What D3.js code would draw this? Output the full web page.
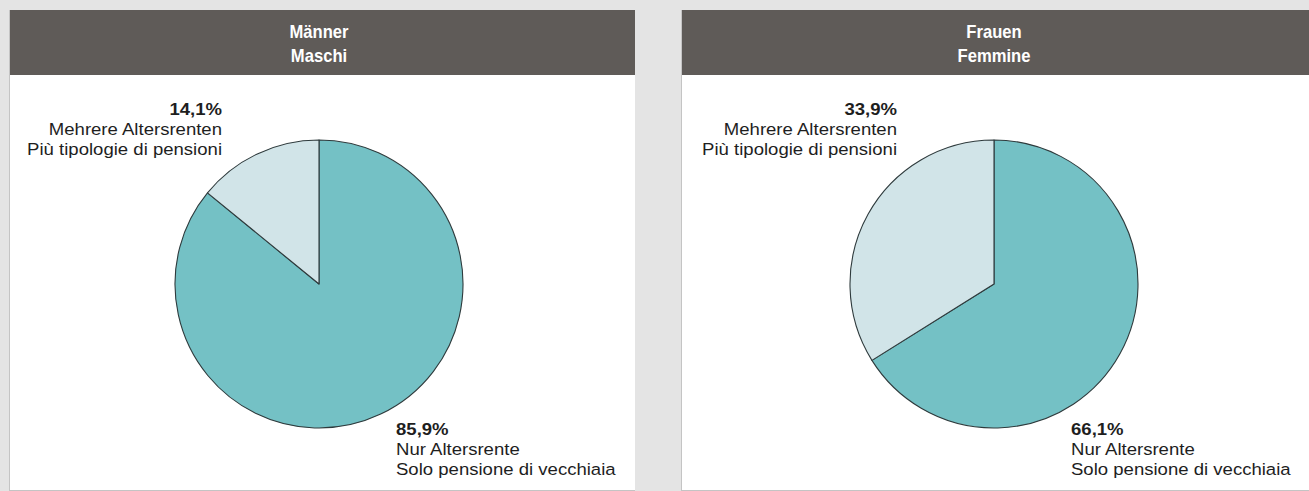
<!DOCTYPE html>
<html><head><meta charset="utf-8">
<script src="https://cdn.jsdelivr.net/npm/d3@7"></script>
<style>html,body{margin:0;padding:0;background:#e4e4e4;}svg{display:block;font-family:"Liberation Sans",Arial,sans-serif;}</style>
</head><body>
<svg id="c" width="1309" height="491"></svg>
<script>
const panelTitles = [["Männer","Maschi"],["Frauen","Femmine"]];
const categories = [["Nur Altersrente","Solo pensione di vecchiaia"],["Mehrere Altersrenten","Più tipologie di pensioni"]];
const menValues = [85.9, 14.1];
const womenValues = [66.1, 33.9];
const seriesValues = [menValues, womenValues];
const colors = ["#74c1c5", "#d1e4e8"];

const svg = d3.select("#c");
const panels = [{x:10, w:625}, {x:682, w:627}];
const fmt = v => d3.format(".1f")(v).replace(".", ",") + "%";
const color = d3.scaleOrdinal().domain([0,1]).range(colors);
const pie = d3.pie().sort(null).value(d => d);
const R = 144;
const arc = d3.arc().innerRadius(0).outerRadius(R);
const SX = 1.125;

panels.forEach((p, i) => {
  const g = svg.append("g").attr("transform", `translate(${p.x},10)`);
  g.append("rect").attr("x",-1).attr("y",0).attr("width",p.w+1).attr("height",481).attr("fill","#c4c4c4");
  g.append("rect").attr("x",0).attr("y",0).attr("width",p.w).attr("height",480).attr("fill","#fff");
  g.append("rect").attr("x",0).attr("y",0).attr("width",p.w).attr("height",65).attr("fill","#5f5b58");
  const cx = i === 0 ? 309 : 312;
  const title = g.append("g").attr("transform", `translate(${cx},0) scale(0.95,1)`)
    .append("text").attr("text-anchor","middle").attr("fill","#fff")
    .attr("font-weight","bold").attr("font-size",17.5);
  panelTitles[i].forEach((t, k) => title.append("tspan").attr("x", 0).attr("y", 28 + k*24).text(t));

  const pg = g.append("g").attr("transform", `translate(${cx},274)`);
  pg.selectAll("path").data(pie(seriesValues[i])).join("path")
    .attr("d", arc).attr("fill", (d, j) => color(j))
    .attr("stroke", "#2e3a3c").attr("stroke-width", 1.1).attr("stroke-linejoin","round");

  // top label (second category)
  const tl = g.append("g").attr("transform", `translate(${cx-97},0) scale(${SX},1)`)
    .append("text").attr("text-anchor","end").attr("fill","#1e1e1e").attr("font-size",16.5);
  tl.append("tspan").attr("x", 0).attr("y", 105).attr("font-weight","bold").text(fmt(seriesValues[i][1]));
  categories[1].forEach((t,k) => tl.append("tspan").attr("x", 0).attr("y", 125 + k*20).text(t));
  // bottom label (first category)
  const bl = g.append("g").attr("transform", `translate(${cx+77},0) scale(${SX},1)`)
    .append("text").attr("text-anchor","start").attr("fill","#1e1e1e").attr("font-size",16.5);
  bl.append("tspan").attr("x", 0).attr("y", 425).attr("font-weight","bold").text(fmt(seriesValues[i][0]));
  categories[0].forEach((t,k) => bl.append("tspan").attr("x", 0).attr("y", 445 + k*20).text(t));
});
</script>
</body></html>
